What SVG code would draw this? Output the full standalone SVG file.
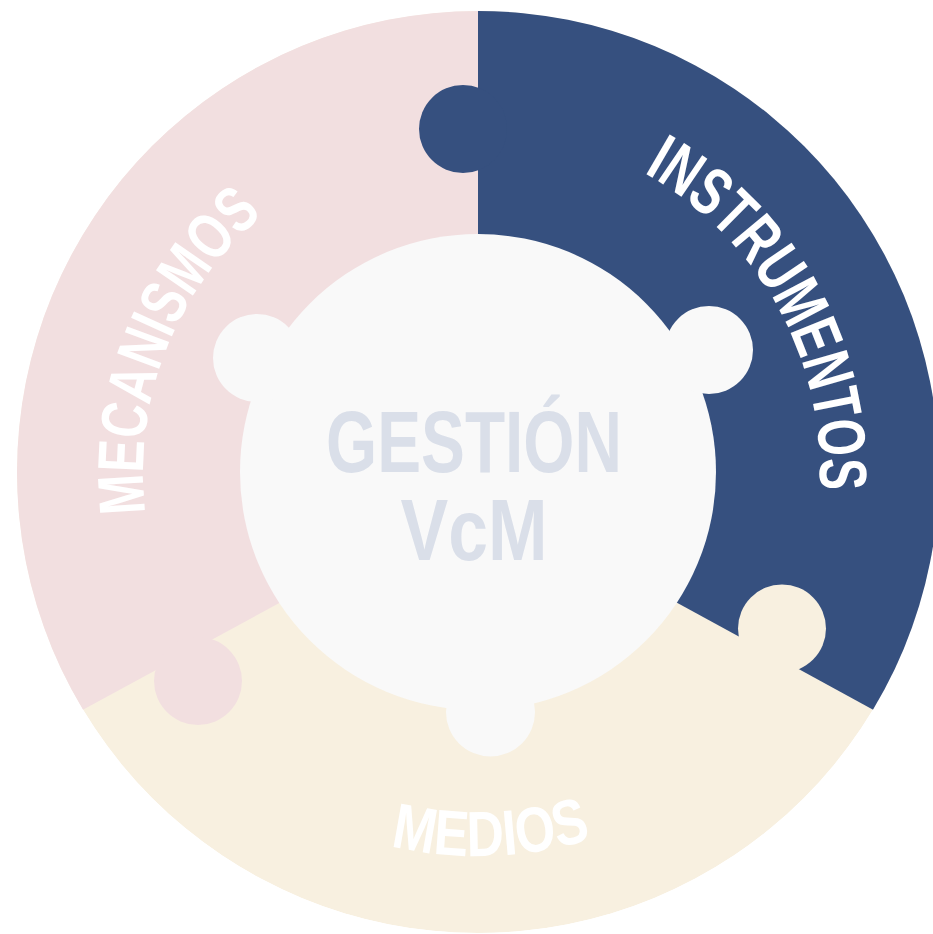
<svg xmlns="http://www.w3.org/2000/svg" width="933" height="934" viewBox="0 0 933 934">
  <style>
    .pink{fill:#f2dfe0}
    .navy{fill:#36507f}
    .beige{fill:#f8f0e0}
    .core{fill:#f9f9f9}
    .label{fill:#ffffff;font-family:"Liberation Sans",Arial,sans-serif;font-weight:bold}
    .title{fill:#dadfe9;font-family:"Liberation Sans",Arial,sans-serif;font-weight:bold;font-size:88px;text-anchor:middle}
  </style>
  <defs>
    <clipPath id="ring">
      <circle cx="478" cy="472" r="461"/>
    </clipPath>
    <path id="arcMec" d="M303.0,757.6 A335,335 0 0 1 544.8,143.7"/>
    <path id="arcIns" d="M366.7,148.6 A342,342 0 0 1 693.2,737.8"/>
    <path id="arcMed" d="M102.4,551.8 A384,384 0 0 0 858.3,525.4"/>
  </defs>
  <rect width="933" height="934" fill="#ffffff"/>
  <g clip-path="url(#ring)">
    <g id="seg-medios">
      <circle class="beige" cx="478" cy="472" r="461"/>
    </g>
    <g id="seg-mecanismos">
      <polygon class="pink" points="478,-10 478,495 -50,782 -50,-10"/>
    </g>
    <g id="seg-instrumentos">
      <polygon class="navy" points="478,-10 478,494 1000,779 1000,-10"/>
    </g>
    <circle class="navy" cx="463" cy="129" r="44"/>
    <circle class="beige" cx="782" cy="628.5" r="44"/>
    <circle class="pink" cx="198" cy="681" r="44"/>
  </g>
  <g id="center">
    <circle class="core" cx="478" cy="472" r="238"/>
    <circle class="core" cx="257" cy="358" r="44"/>
    <circle class="core" cx="709" cy="350" r="44"/>
    <circle class="core" cx="490.5" cy="712" r="44.5"/>
    <text class="title" x="474" y="471.7" textLength="296" lengthAdjust="spacingAndGlyphs">GESTIÓN</text>
    <text class="title" x="474" y="560" textLength="147" lengthAdjust="spacingAndGlyphs">VcM</text>
  </g>
  <g id="labels">
    <text class="label" font-size="65"><textPath href="#arcMec" startOffset="50%" text-anchor="middle" textLength="334" lengthAdjust="spacingAndGlyphs">MECANISMOS</textPath></text>
    <text class="label" font-size="67"><textPath href="#arcIns" startOffset="50%" text-anchor="middle" textLength="382" lengthAdjust="spacingAndGlyphs">INSTRUMENTOS</textPath></text>
    <text class="label" font-size="64"><textPath href="#arcMed" startOffset="50%" text-anchor="middle" textLength="204" lengthAdjust="spacingAndGlyphs">MEDIOS</textPath></text>
  </g>
</svg>
